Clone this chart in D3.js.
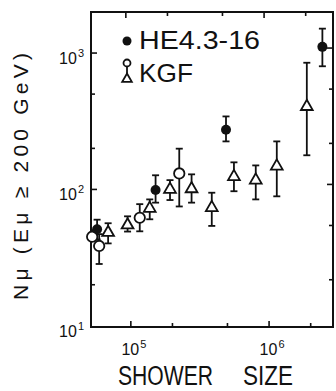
<!DOCTYPE html>
<html>
<head>
<meta charset="utf-8">
<script src="https://cdn.jsdelivr.net/npm/d3@7"></script>
<style>
  body { margin: 0; background: #fff; }
  svg text { font-family: "Liberation Sans", "DejaVu Sans", sans-serif; fill: #111; }
</style>
</head>
<body>
<script>
// HE4.3-16 (filled circles): shower size, N_mu, lower, upper
const heSize  = [57000, 151000, 488000, 2430000]
const heNmu   = [51, 99, 274, 1110]
const heLow   = [43, 80, 225, 800]
const heHigh  = [60, 127, 343, 1510]

// KGF open circles
const kgfCircSize = [52500, 59000, 116000, 224000]
const kgfCircNmu  = [45, 38.5, 62, 131]
const kgfCircLow  = [45, 28.4, 49.3, 75]
const kgfCircHigh = [45, 47, 78, 199]

// KGF triangles
const kgfTriSize = [68500, 94700, 137000, 192000, 275000, 385000, 557000, 801000, 1137000, 1875000]
const kgfTriNmu  = [48.3, 54.8, 72.6, 100, 101, 73.5, 124, 117, 148, 405]
const kgfTriLow  = [40.2, 49.1, 60.4, 83.6, 80, 54, 97, 84.5, 89, 178]
const kgfTriHigh = [56.5, 63.5, 84.5, 117, 129, 94.6, 158, 150, 225, 849]

const xMajor = [1e5, 1e6]
const xMinor = [2e5, 5e5, 2e6]
const yMajor = [1e2, 1e3]
const yMinor = [20, 50, 200, 500]
const xTickLabels = [["10", "5"], ["10", "6"]]
const yTickLabels = [["10", "1"], ["10", "2"], ["10", "3"]]
const yTickValues = [10, 100, 1000]

const W = 336, H = 391
const pLeft = 91, pRight = 333, pTop = 12, pBottom = 327

const svg = d3.select("body").append("svg")
    .attr("width", W)
    .attr("height", H)

const x = d3.scaleLog().domain([51500, 2.9e6]).range([pLeft, pRight])
const y = d3.scaleLog().domain([9.8, 2000]).range([pBottom, pTop])

// frame
svg.append("rect")
    .attr("x", pLeft).attr("y", pTop)
    .attr("width", pRight - pLeft).attr("height", pBottom - pTop)
    .attr("fill", "none").attr("stroke", "#111").attr("stroke-width", 2)

// inward ticks on all four sides
const ticks = svg.append("g").attr("stroke", "#111").attr("stroke-width", 1.6)
const xTicks = xMajor.map(v => ({v, len: 6})).concat(xMinor.map(v => ({v, len: 4})))
const yTicks = yMajor.map(v => ({v, len: 6})).concat(yMinor.map(v => ({v, len: 4})))
ticks.selectAll(".xb").data(xTicks).enter().append("line")
    .attr("x1", d => x(d.v)).attr("x2", d => x(d.v))
    .attr("y1", pBottom).attr("y2", d => pBottom - d.len)
ticks.selectAll(".xt").data(xTicks).enter().append("line")
    .attr("x1", d => x(d.v) - 5).attr("x2", d => x(d.v) - 5)
    .attr("y1", pTop).attr("y2", d => pTop + d.len)
ticks.selectAll(".yl").data(yTicks).enter().append("line")
    .attr("x1", pLeft).attr("x2", d => pLeft + d.len)
    .attr("y1", d => y(d.v)).attr("y2", d => y(d.v))
ticks.selectAll(".yr").data(yTicks).enter().append("line")
    .attr("x1", pRight).attr("x2", d => pRight - d.len)
    .attr("y1", d => y(d.v) - 5).attr("y2", d => y(d.v) - 5)

// tick labels
function powLabel(sel, base, exp) {
    sel.append("tspan").text(base)
    sel.append("tspan").attr("dy", -7).attr("dx", 1).attr("font-size", 11).text(exp)
}
yTickValues.forEach((v, i) => {
    const t = svg.append("text")
        .attr("x", pLeft - 7).attr("y", y(v) + 11)
        .attr("text-anchor", "end").attr("font-size", 16)
    powLabel(t, yTickLabels[i][0], yTickLabels[i][1])
})
xMajor.forEach((v, i) => {
    const t = svg.append("text")
        .attr("x", x(v) + 3).attr("y", 355)
        .attr("text-anchor", "middle").attr("font-size", 16)
    powLabel(t, xTickLabels[i][0], xTickLabels[i][1])
})

// axis titles
svg.append("text")
    .attr("x", 118).attr("y", 385)
    .attr("font-size", 27)
    .attr("textLength", 95).attr("lengthAdjust", "spacingAndGlyphs")
    .text("SHOWER")
svg.append("text")
    .attr("x", 243).attr("y", 385)
    .attr("font-size", 27)
    .attr("textLength", 50).attr("lengthAdjust", "spacingAndGlyphs")
    .text("SIZE")
svg.append("text")
    .attr("transform", "translate(28,300) rotate(-90)")
    .attr("font-size", 21)
    .attr("textLength", 247).attr("lengthAdjust", "spacing")
    .text("Nμ (Eμ ≥ 200 GeV)")

// error bars
function errorBars(sizes, low, high) {
    const g = svg.append("g").attr("stroke", "#111").attr("stroke-width", 1.8)
    const rows = sizes.map((s, i) => ({s, lo: low[i], hi: high[i]})).filter(d => d.hi > d.lo)
    g.selectAll(".v").data(rows).enter().append("line")
        .attr("x1", d => x(d.s)).attr("x2", d => x(d.s))
        .attr("y1", d => y(d.lo)).attr("y2", d => y(d.hi))
    g.selectAll(".lo").data(rows).enter().append("line")
        .attr("x1", d => x(d.s) - 3.5).attr("x2", d => x(d.s) + 3.5)
        .attr("y1", d => y(d.lo)).attr("y2", d => y(d.lo))
    g.selectAll(".hi").data(rows).enter().append("line")
        .attr("x1", d => x(d.s) - 3.5).attr("x2", d => x(d.s) + 3.5)
        .attr("y1", d => y(d.hi)).attr("y2", d => y(d.hi))
}
errorBars(kgfTriSize, kgfTriLow, kgfTriHigh)
errorBars(kgfCircSize, kgfCircLow, kgfCircHigh)
errorBars(heSize, heLow, heHigh)

const tri = d3.symbol().type(d3.symbolTriangle).size(60)

svg.append("g").selectAll("path")
    .data(kgfTriSize.map((s, i) => [s, kgfTriNmu[i]]))
    .enter().append("path")
    .attr("d", tri)
    .attr("transform", d => `translate(${x(d[0])},${y(d[1])})`)
    .attr("fill", "#fff").attr("stroke", "#111").attr("stroke-width", 1.8)

svg.append("g").selectAll("circle")
    .data(kgfCircSize.map((s, i) => [s, kgfCircNmu[i]]))
    .enter().append("circle")
    .attr("cx", d => x(d[0])).attr("cy", d => y(d[1])).attr("r", 5.2)
    .attr("fill", "#fff").attr("stroke", "#111").attr("stroke-width", 1.8)

svg.append("g").selectAll("circle")
    .data(heSize.map((s, i) => [s, heNmu[i]]))
    .enter().append("circle")
    .attr("cx", d => x(d[0])).attr("cy", d => y(d[1])).attr("r", 5)
    .attr("fill", "#111")

// legend
const lg = svg.append("g")
lg.append("circle").attr("cx", 127).attr("cy", 41).attr("r", 4.5).attr("fill", "#111")
lg.append("text").attr("x", 139).attr("y", 49).attr("font-size", 25)
    .attr("textLength", 121).attr("lengthAdjust", "spacingAndGlyphs").text("HE4.3-16")
lg.append("line").attr("x1", 127).attr("x2", 127).attr("y1", 66).attr("y2", 75)
    .attr("stroke", "#111").attr("stroke-width", 1.8)
lg.append("circle").attr("cx", 127).attr("cy", 63).attr("r", 3.5)
    .attr("fill", "#fff").attr("stroke", "#111").attr("stroke-width", 1.8)
lg.append("path").attr("d", d3.symbol().type(d3.symbolTriangle).size(40))
    .attr("transform", "translate(127,79)")
    .attr("fill", "#fff").attr("stroke", "#111").attr("stroke-width", 1.8)
lg.append("text").attr("x", 139).attr("y", 82).attr("font-size", 25)
    .attr("textLength", 54).attr("lengthAdjust", "spacingAndGlyphs").text("KGF")
</script>
</body>
</html>
